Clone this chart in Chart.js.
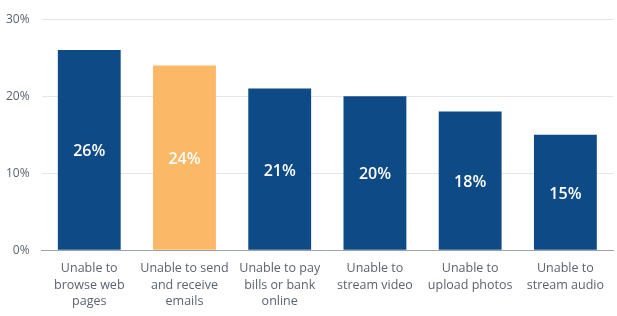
<!DOCTYPE html>
<html>
<head>
    <title>Connectivity problems</title>
    <script src="https://cdn.jsdelivr.net/npm/chart.js"></script>
    <style>
        html, body { margin: 0; padding: 0; background: #fff; }
        #wrap { width: 617px; height: 316px; }
    </style>
</head>
<body>
    <div id="wrap"><canvas id="myChart"></canvas></div>

    <script>
        // categories and values
        const categories = [
            ['Unable to', 'browse web', 'pages'],
            ['Unable to send', 'and receive', 'emails'],
            ['Unable to pay', 'bills or bank', 'online'],
            ['Unable to', 'stream video'],
            ['Unable to', 'upload photos'],
            ['Unable to', 'stream audio']
        ];
        const values = [26, 24, 21, 20, 18, 15];
        const yTicks = [0, 10, 20, 30];

        const navy = '#0e4a86';
        const orange = '#fbb867';
        const barColors = values.map((v, i) => i === 1 ? orange : navy);

        // white percentage labels in the middle of each bar
        const valueLabels = {
            id: 'valueLabels',
            afterDatasetsDraw(chart) {
                const ctx = chart.ctx;
                const meta = chart.getDatasetMeta(0);
                ctx.save();
                ctx.fillStyle = '#ffffff';
                ctx.font = '600 16px "Open Sans"';
                ctx.textAlign = 'center';
                ctx.textBaseline = 'middle';
                meta.data.forEach((bar, i) => {
                    const mid = (bar.y + bar.base) / 2;
                    ctx.fillText(values[i] + '%', bar.x, mid + 2);
                });
                ctx.restore();
            }
        };

        const ctx = document.getElementById('myChart').getContext('2d');
        const myChart = new Chart(ctx, {
            type: 'bar',
            data: {
                labels: categories,
                datasets: [{
                    data: values,
                    backgroundColor: barColors,
                    borderWidth: 0,
                    categoryPercentage: 1,
                    barPercentage: 0.66
                }]
            },
            options: {
                responsive: true,
                maintainAspectRatio: false,
                animation: false,
                layout: { padding: { top: 10, right: 4, bottom: -4, left: -6 } },
                plugins: {
                    legend: { display: false },
                    tooltip: { enabled: false }
                },
                scales: {
                    x: {
                        grid: { display: false, drawTicks: false },
                        border: { color: '#9aa3ad', width: 1 },
                        ticks: {
                            color: '#5a6470',
                            font: { family: 'Open Sans', size: 12.5, lineHeight: 1.33 },
                            padding: 10,
                            maxRotation: 0,
                            minRotation: 0,
                            autoSkip: false
                        }
                    },
                    y: {
                        min: 0,
                        max: 30,
                        afterBuildTicks(axis) {
                            axis.ticks = yTicks.map(v => ({ value: v }));
                        },
                        grid: { color: '#e3e6ea', drawTicks: false },
                        border: { display: false },
                        ticks: {
                            color: '#5a6470',
                            font: { family: 'Open Sans', size: 12 },
                            padding: 12,
                            callback: v => v + '%'
                        }
                    }
                }
            },
            plugins: [valueLabels]
        });
    </script>
</body>
</html>
